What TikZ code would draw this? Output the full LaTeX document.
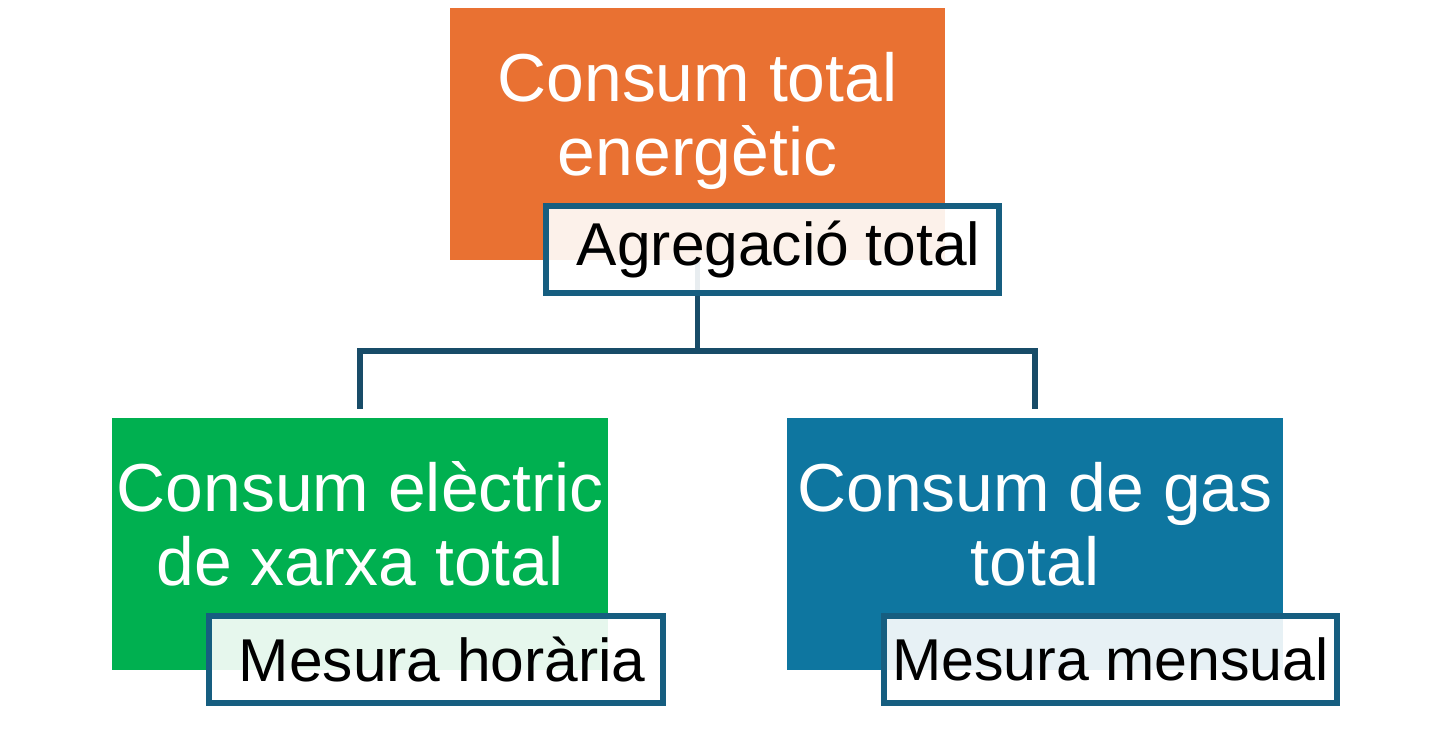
\documentclass[tikz,border=0pt]{standalone}
\usepackage{fontspec}
\setmainfont{Liberation Sans}
\usepackage{tikz}
\usetikzlibrary{positioning,calc}
\definecolor{totorange}{RGB}{233,113,50}
\definecolor{elecgreen}{RGB}{0,176,80}
\definecolor{gasblue}{RGB}{14,118,160}
\definecolor{tagrule}{RGB}{22,94,128}
\definecolor{linkrule}{RGB}{24,76,104}
\tikzset{
  mainbox/.style={rectangle,inner sep=0pt,minimum width=4.95cm,minimum height=2.52cm},
  maintext/.style={align=center,text=white,font=\fontsize{19.3}{21}\selectfont},
  tagbox/.style={rectangle,draw=tagrule,line width=1.75pt,fill=white,fill opacity=0.9,text opacity=1,inner sep=0pt,minimum width=4.53cm,minimum height=0.87cm,font=\fontsize{17.2}{19}\selectfont},
  link/.style={draw=linkrule,line width=1.7pt}
}
\begin{document}
\begin{tikzpicture}[x=0.01cm,y=-0.01cm]
  \useasboundingbox (0,0) rectangle (1445,735);
  % blocs principals
  \node[mainbox,fill=totorange] (tot) at (697.5,134) {};
  \node[mainbox,fill=elecgreen] (elec) at (360,544) {};
  \node[mainbox,fill=gasblue] (gas) at (1035,544) {};
  \node[maintext] (totT) at (697.5,121) {Consum total\\energètic};
  \node[maintext] (elecT) at (360,524) {Consum elèctric\\de xarxa total};
  \node[maintext] (gasT) at (1035,524) {Consum de gas\\total};
  % connectors
  \draw[link] (tot.south) -- ++(0,90) coordinate (mid) -| ([yshift=0.08cm]elec.north);
  \draw[link] (mid) -| ([yshift=0.08cm]gas.north);
  % etiquetes
  \node[tagbox] (agr) at (772.5,249.5) {\hspace{3.5pt}Agregació total};
  \node[tagbox] (hor) at (436,659.5) {\hspace{3.5pt}Mesura horària};
  \node[tagbox,font=\fontsize{16.8}{19}\selectfont] (men) at (1110.5,659.5) {Mesura mensual};
\end{tikzpicture}
\end{document}
